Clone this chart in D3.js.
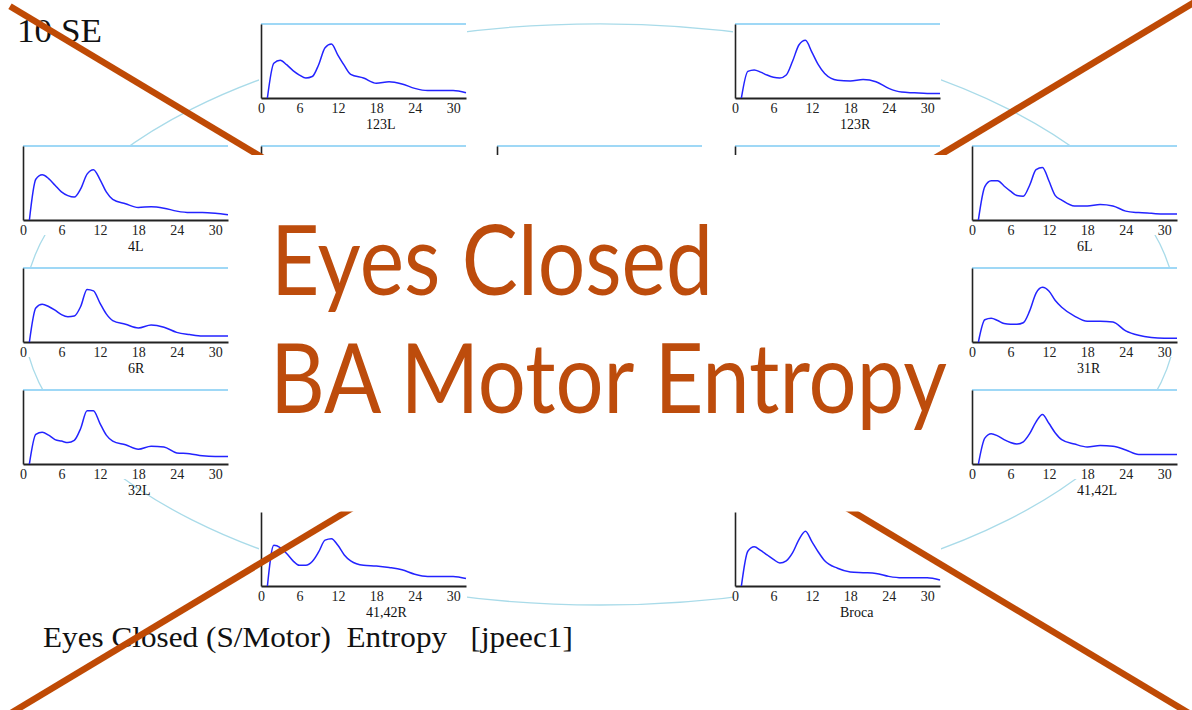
<!DOCTYPE html>
<html><head><meta charset="utf-8">
<script src="https://cdn.jsdelivr.net/npm/d3@7"></script>
<style>html,body{margin:0;padding:0;background:#fff;overflow:hidden}</style>
</head><body><svg id="c" width="1192" height="710"></svg>
<script>
// ---------- data ----------
const freqs = [1, 2, 3, 4, 5, 6, 7, 8, 9, 10, 11, 12, 13, 14, 16, 18, 20, 22, 24, 26, 28, 30, 32];
const xTicks = [0, 6, 12, 18, 24, 30];
const regionNames = ["123L", "123R", "4L", "6L", "6R", "31R", "32L", "41,42L", "41,42R", "Broca"];
const v123L  = [0, 0.47, 0.51, 0.45, 0.37, 0.31, 0.27, 0.29, 0.45, 0.68, 0.73, 0.58, 0.44, 0.32, 0.27, 0.20, 0.22, 0.19, 0.13, 0.10, 0.10, 0.10, 0.07];
const v123R  = [0, 0.36, 0.38, 0.35, 0.31, 0.28, 0.27, 0.31, 0.50, 0.72, 0.78, 0.62, 0.45, 0.33, 0.24, 0.23, 0.25, 0.22, 0.13, 0.08, 0.07, 0.06, 0.06];
const v4L    = [0, 0.55, 0.61, 0.56, 0.47, 0.38, 0.33, 0.31, 0.42, 0.62, 0.68, 0.55, 0.38, 0.28, 0.22, 0.17, 0.18, 0.16, 0.12, 0.10, 0.10, 0.09, 0.07];
const v6L    = [0, 0.45, 0.53, 0.53, 0.46, 0.39, 0.33, 0.32, 0.47, 0.68, 0.71, 0.53, 0.33, 0.27, 0.19, 0.19, 0.21, 0.19, 0.12, 0.10, 0.09, 0.08, 0.08];
const v6R    = [0, 0.46, 0.51, 0.48, 0.43, 0.37, 0.34, 0.35, 0.48, 0.71, 0.69, 0.53, 0.38, 0.29, 0.24, 0.19, 0.23, 0.20, 0.13, 0.10, 0.08, 0.08, 0.08];
const v31R   = [0, 0.30, 0.32, 0.29, 0.25, 0.24, 0.24, 0.26, 0.42, 0.66, 0.74, 0.69, 0.56, 0.47, 0.35, 0.28, 0.28, 0.27, 0.15, 0.09, 0.06, 0.05, 0.05];
const v32L   = [0, 0.40, 0.43, 0.39, 0.33, 0.31, 0.29, 0.32, 0.48, 0.72, 0.72, 0.55, 0.39, 0.31, 0.26, 0.20, 0.24, 0.23, 0.15, 0.14, 0.11, 0.10, 0.10];
const v4142L = [0, 0.35, 0.41, 0.38, 0.33, 0.29, 0.27, 0.30, 0.41, 0.57, 0.67, 0.55, 0.42, 0.33, 0.27, 0.23, 0.25, 0.24, 0.19, 0.13, 0.13, 0.13, 0.13];
const v4142R = [0, 0.55, 0.52, 0.44, 0.34, 0.28, 0.28, 0.33, 0.46, 0.62, 0.64, 0.55, 0.42, 0.34, 0.28, 0.27, 0.25, 0.22, 0.16, 0.13, 0.13, 0.13, 0.10];
const vBroca = [0, 0.47, 0.53, 0.48, 0.42, 0.36, 0.31, 0.34, 0.45, 0.63, 0.74, 0.60, 0.46, 0.34, 0.24, 0.19, 0.18, 0.17, 0.13, 0.11, 0.11, 0.11, 0.08];
const seriesValues = [v123L, v123R, v4L, v6L, v6R, v31R, v32L, v4142L, v4142R, vBroca];
const titleLines = ["Eyes Closed", "BA Motor Entropy"];
const captionText = "Eyes Closed (S/Motor)  Entropy   [jpeec1]";
const cornerText = "10 SE";

// ---------- layout ----------
const W = 205, H = 74;
const colX = [23, 261, 497, 735, 972];
const rowY = [24, 146, 268, 390, 512];
// panel placement: [col, row, hasTopLine]
const placement = {
  "123L": [1, 0, true], "123R": [3, 0, true],
  "4L": [0, 1, true], "6L": [4, 1, true],
  "6R": [0, 2, true], "31R": [4, 2, true],
  "32L": [0, 3, true], "41,42L": [4, 3, true],
  "41,42R": [1, 4, false], "Broca": [3, 4, false]
};
const hiddenFrames = [[1, 1], [2, 1], [3, 1]];

const svg = d3.select("#c");
svg.append("rect").attr("width", 1192).attr("height", 710).attr("fill", "#fff");

// connecting ellipse
svg.append("ellipse").attr("cx", 600).attr("cy", 314.4).attr("rx", 577).attr("ry", 290.6)
  .attr("fill", "none").attr("stroke", "#a9dbe9").attr("stroke-width", 1.3);

const x = d3.scaleLinear().domain([0, 32]).range([0, W]);
const y = d3.scaleLinear().domain([0, 1]).range([H, 0]);
const line = d3.line().x(d => x(d.f)).y(d => y(d.v)).curve(d3.curveMonotoneX);

function frame(px, py, topLine, withAxes) {
  const g = svg.append("g").attr("transform", `translate(${px},${py})`);
  g.append("rect").attr("x", -2).attr("y", -1).attr("width", W + 3).attr("height", 90).attr("fill", "#fff");
  if (topLine) g.append("line").attr("x1", 0).attr("x2", W).attr("y1", 0).attr("y2", 0)
    .attr("stroke", "#9fd8f6").attr("stroke-width", 2);
  if (withAxes) {
    const ax = g.append("g").attr("transform", `translate(0,${H})`)
      .call(d3.axisBottom(x).tickValues(xTicks).tickSize(0).tickSizeOuter(0).tickPadding(5));
    ax.select(".domain").attr("stroke", "#222").attr("stroke-width", 2);
    ax.selectAll("text").attr("font-family", "Liberation Serif").attr("font-size", 14).attr("fill", "#222");
  }
  const ay = g.append("g").call(d3.axisLeft(y).tickValues([]).tickSize(0).tickSizeOuter(0));
  ay.select(".domain").attr("stroke", "#222").attr("stroke-width", 1.6);
  return g;
}

hiddenFrames.forEach(([c, r]) => frame(colX[c], rowY[r], true, false));

regionNames.forEach((name, i) => {
  const [c, r, top] = placement[name];
  const g = frame(colX[c], rowY[r], top, true);
  const pts = freqs.map((f, k) => ({ f: f, v: seriesValues[i][k] }));
  g.append("path").datum(pts).attr("d", line).attr("fill", "none")
    .attr("stroke", "#2323ff").attr("stroke-width", 1.5).attr("stroke-linejoin", "round");
  g.append("text").attr("x", 105).attr("y", H + 31).text(name)
    .attr("font-family", "Liberation Serif").attr("font-size", 14).attr("fill", "#111");
});

// text fitted to a target width via a horizontal scale
function fitText(str, x0, y0, width, size, family, color) {
  const t = svg.append("text").attr("x", 0).attr("y", 0).text(str)
    .style("white-space", "pre")
    .attr("font-family", family).attr("font-size", size).attr("fill", color);
  const nat = t.node().getComputedTextLength() || width;
  t.attr("transform", `translate(${x0},${y0}) scale(${width / nat},1)`);
  return t;
}

// corner label
fitText(cornerText, 17, 41.5, 85, 33, "Liberation Serif", "#111");

// caption
fitText(captionText, 43, 647, 530, 29, "Liberation Serif", "#111");

// big X
const xc = "#bf4a05";
const l1 = xx => 155 + 0.5996 * (xx - 258);
const l2 = xx => 155 - 0.6007 * (xx - 940);
svg.append("line").attr("x1", 10).attr("y1", l1(10)).attr("x2", 1200).attr("y2", l1(1200))
  .attr("stroke", xc).attr("stroke-width", 6.5);
svg.append("line").attr("x1", 1200).attr("y1", l2(1200)).attr("x2", 0).attr("y2", l2(0))
  .attr("stroke", xc).attr("stroke-width", 6.5);

// central white box
svg.append("rect").attr("x", 245).attr("y", 155).attr("width", 710).attr("height", 356.5).attr("fill", "#fff");

// title
const tc = "#bd4c0c";
fitText(titleLines[0], 271, 295, 442, 96, "Lato", tc);
fitText(titleLines[1], 270, 413, 677, 96, "Lato", tc);
</script></body></html>
